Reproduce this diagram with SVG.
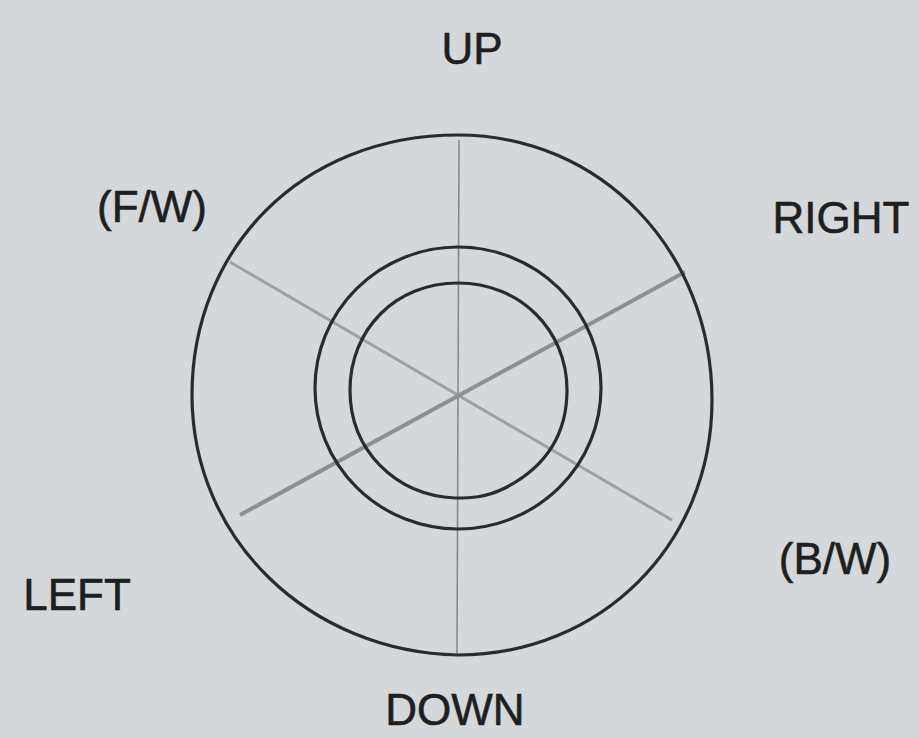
<svg xmlns="http://www.w3.org/2000/svg" width="919" height="738" viewBox="0 0 919 738">
<style>
.ring{fill:none;stroke:#2b2b2c;stroke-width:3.2}
.lbl{font-family:"Liberation Sans","DejaVu Sans",sans-serif;font-size:44px;fill:#1f1f20;text-anchor:middle;stroke:#1f1f20;stroke-width:0.6}
</style>
<rect width="919" height="738" fill="#d4d8da"/>
<g id="axes">
<line x1="459" y1="140" x2="457" y2="655" stroke="#86898c" stroke-width="1.6"/>
<line x1="230" y1="262" x2="672" y2="520" stroke="#9da1a4" stroke-width="3"/>
<line x1="240" y1="515" x2="685" y2="272" stroke="#8c9093" stroke-width="4"/>
</g>
<g id="rings">
<path class="ring" d="M458 135 C 600 135 712 250 712 400 C 712 545 600 655 458 655 C 310 652 192 540 192 395 C 192 250 300 135 458 135 Z"/>
<ellipse class="ring" cx="458" cy="388" rx="143" ry="141"/>
<path class="ring" d="M458 283 C 520 283 567 330 567 390 C 567 440 540 470 505 488 C 485 498 470 498 455 498 C 395 495 350 450 350 390 C 350 330 395 283 458 283 Z"/>
</g>
<g id="label-up"><text class="lbl" x="472" y="64">UP</text></g>
<g id="label-fw"><text class="lbl" x="152" y="222">(F/W)</text></g>
<g id="label-right"><text class="lbl" x="841" y="233">RIGHT</text></g>
<g id="label-bw"><text class="lbl" x="835" y="574">(B/W)</text></g>
<g id="label-left"><text class="lbl" x="77" y="610">LEFT</text></g>
<g id="label-down"><text class="lbl" x="455" y="725">DOWN</text></g>
</svg>
